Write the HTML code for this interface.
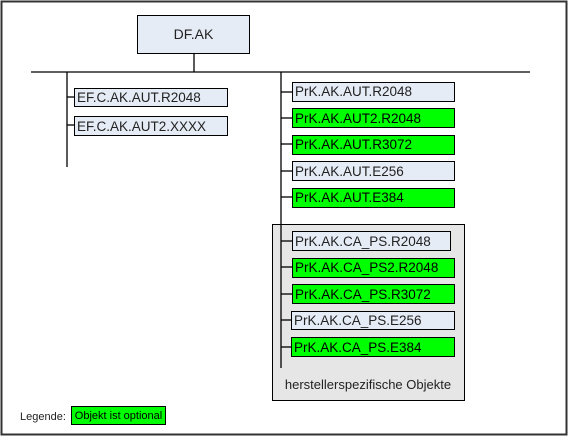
<!DOCTYPE html>
<html><head><meta charset="utf-8"><style>
html,body{margin:0;padding:0;background:#fff;}
svg{display:block;font-family:"Liberation Sans",Arial,sans-serif;}
</style></head><body>
<svg width="569" height="437" viewBox="0 0 569 437" xmlns="http://www.w3.org/2000/svg">
<rect x="0" y="0" width="569" height="437" fill="#fff"/>
<rect x="1.5" y="1.5" width="565" height="433" fill="none" stroke="#333" stroke-width="2"/>
<!-- root -->
<rect x="137.5" y="15.5" width="112" height="38" fill="#e6ecf6" stroke="#000"/>
<text x="193.5" y="39" font-size="14" text-anchor="middle" fill="#222">DF.AK</text>
<g stroke="#000" stroke-width="1.3">
<line x1="194" y1="53.5" x2="194" y2="72"/>
<line x1="31" y1="72" x2="530" y2="72"/>
<line x1="67" y1="72" x2="67" y2="167"/>
<line x1="281" y1="72" x2="281" y2="368"/>
<line x1="67" y1="97" x2="74" y2="97"/>
<line x1="67" y1="125" x2="74" y2="125"/>
<line x1="281" y1="92" x2="292" y2="92"/>
<line x1="281" y1="118" x2="292" y2="118"/>
<line x1="281" y1="144" x2="292" y2="144"/>
<line x1="281" y1="171" x2="292" y2="171"/>
<line x1="281" y1="197" x2="292" y2="197"/>
</g>
<rect x="272.5" y="224.5" width="192" height="176" fill="#e6e6e6" stroke="#000"/>
<g stroke="#000" stroke-width="1.3">
<line x1="281" y1="224" x2="281" y2="368"/>
<line x1="281" y1="241" x2="292" y2="241"/>
<line x1="281" y1="267" x2="292" y2="267"/>
<line x1="281" y1="294" x2="292" y2="294"/>
<line x1="281" y1="320" x2="292" y2="320"/>
<line x1="281" y1="347" x2="292" y2="347"/>
</g>
<g stroke="#000" stroke-width="1" font-size="13.5">
<rect x="74.5" y="88.5" width="153" height="18" fill="#e6ecf6"/>
<rect x="74.5" y="116.5" width="153" height="19" fill="#e6ecf6"/>
<rect x="292.5" y="82.5" width="162" height="19" fill="#e6ecf6"/>
<rect x="292.5" y="108.5" width="162" height="19" fill="#00ff00"/>
<rect x="292.5" y="135.5" width="162" height="19" fill="#00ff00"/>
<rect x="292.5" y="161.5" width="162" height="19" fill="#e6ecf6"/>
<rect x="292.5" y="188.5" width="162" height="19" fill="#00ff00"/>
<rect x="292.5" y="231.5" width="158" height="19" fill="#e6ecf6"/>
<rect x="292.5" y="258.5" width="162" height="19" fill="#00ff00"/>
<rect x="292.5" y="284.5" width="162" height="19" fill="#00ff00"/>
<rect x="291.5" y="311.5" width="163" height="18" fill="#e6ecf6"/>
<rect x="291.5" y="337.5" width="163" height="19" fill="#00ff00"/>
</g>
<g font-size="13.5" fill="#222" stroke="none">
<text x="77" y="102">EF.C.AK.AUT.R2048</text>
<text x="77" y="131">EF.C.AK.AUT2.XXXX</text>
<text x="295" y="96">PrK.AK.AUT.R2048</text>
<text x="295" y="123" fill="#000">PrK.AK.AUT2.R2048</text>
<text x="295" y="149" fill="#000">PrK.AK.AUT.R3072</text>
<text x="295" y="176">PrK.AK.AUT.E256</text>
<text x="295" y="202" fill="#000">PrK.AK.AUT.E384</text>
<text x="295" y="246">PrK.AK.CA_PS.R2048</text>
<text x="295" y="272" fill="#000">PrK.AK.CA_PS2.R2048</text>
<text x="295" y="299" fill="#000">PrK.AK.CA_PS.R3072</text>
<text x="294" y="325">PrK.AK.CA_PS.E256</text>
<text x="294" y="352" fill="#000">PrK.AK.CA_PS.E384</text>
<text x="368" y="389" text-anchor="middle" font-size="13">herstellerspezifische Objekte</text>
</g>
<text x="20" y="420" font-size="11" fill="#222">Legende:</text>
<rect x="71.5" y="406.5" width="94" height="18" fill="#00ff00" stroke="#000"/>
<text x="118.5" y="419" font-size="11" text-anchor="middle" fill="#000">Objekt ist optional</text>
</svg>
</body></html>
